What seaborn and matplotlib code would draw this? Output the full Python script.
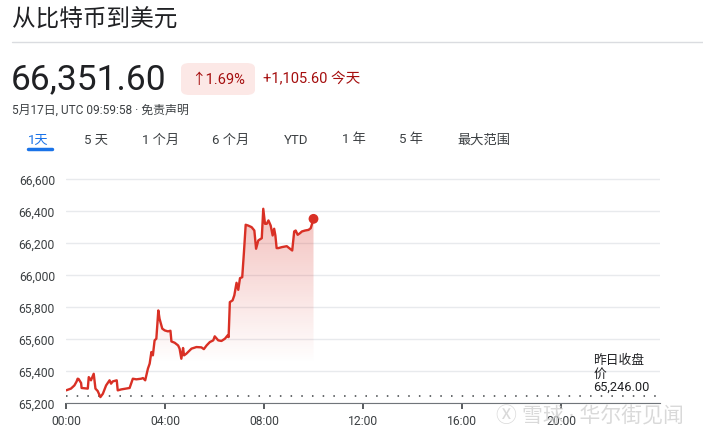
import numpy as np
import pandas as pd
import seaborn as sns
import matplotlib.pyplot as plt
from matplotlib.patches import FancyBboxPatch, Polygon

# BTC -> USD intraday
hours = [0.0, 0.2, 0.34, 0.43, 0.51, 0.47, 0.61, 0.63, 0.88, 0.92, 1.01, 1.12, 1.19,
         1.28, 1.39, 1.49, 1.62, 1.76, 1.82, 1.89, 2.05, 2.09, 2.23, 2.57, 2.70, 2.84,
         3.04, 3.11, 3.20, 3.31, 3.38, 3.45, 3.51, 3.58, 3.65, 3.73, 3.78, 3.89, 3.99,
         4.12, 4.22, 4.26, 4.39, 4.53, 4.59, 4.66, 4.73, 4.77, 4.86, 5.07, 5.27, 5.47,
         5.57, 5.68, 5.81, 5.95, 6.01, 6.15, 6.28, 6.42, 6.53, 6.57, 6.62, 6.73, 6.80,
         6.89, 6.96, 7.03, 7.12, 7.19, 7.26, 7.36, 7.50, 7.61, 7.68, 7.77, 7.91, 7.97,
         8.04, 8.11, 8.18, 8.27, 8.35, 8.41, 8.46, 8.51, 8.58, 8.72, 8.92, 9.05, 9.14,
         9.22, 9.28, 9.36, 9.46, 9.53, 9.66, 9.80, 9.89, 10.0]
price = [65279, 65290, 65310, 65335, 65350, 65352, 65325, 65294, 65290, 65362, 65342,
         65383, 65290, 65275, 65237, 65258, 65310, 65342, 65321, 65335, 65342, 65279,
         65285, 65294, 65352, 65348, 65352, 65356, 65342, 65415, 65446, 65519, 65498,
         65592, 65602, 65779, 65727, 65665, 65654, 65648, 65652, 65585, 65577, 65560,
         65540, 65477, 65544, 65498, 65508, 65540, 65550, 65548, 65537, 65560, 65581,
         65592, 65617, 65592, 65588, 65602, 65623, 65612, 65831, 65842, 65873, 65952,
         65908, 65981, 65987, 66144, 66315, 66310, 66300, 66279, 66165, 66217, 66231,
         66415, 66321, 66321, 66342, 66310, 66248, 66290, 66248, 66169, 66169, 66175,
         66181, 66165, 66154, 66273, 66279, 66252, 66263, 66273, 66279, 66283, 66294,
         66352]
prev_close = 65246.00
y_ticks = [65200, 65400, 65600, 65800, 66000, 66200, 66400, 66600]
x_ticks = [0, 4, 8, 12, 16, 20]
x_labels = ["00:00", "04:00", "08:00", "12:00", "16:00", "20:00"]
tabs = ["1天", "5 天", "1 个月", "6 个月", "YTD", "1 年", "5 年", "最大范围"]
tab_x = [28, 84, 142, 212, 284, 342, 399, 457]

df = pd.DataFrame({"hour": hours, "price": price})

RED = "#d93025"
CJK = ["Roboto", "Noto Sans CJK SC", "DejaVu Sans"]

sns.set_style("white")
plt.rcParams["font.family"] = CJK

W, H = 703, 439
fig = plt.figure(figsize=(W / 100, H / 100), dpi=100)
ax = fig.add_axes([66 / W, 1 - 404 / H, (660 - 66) / W, (404 - 177) / H])

sns.lineplot(data=df, x="hour", y="price", color=RED, lw=1.7, ax=ax, zorder=4)
ax.scatter([hours[-1]], [price[-1]], s=50, color=RED, zorder=5, edgecolor="none")

# gradient fill under the line, fading out toward the bottom
y0, y1 = 65200, 66620
vals = np.linspace(y0, y1, 256)
alpha = np.clip((vals - 65450) / (66400 - 65450), 0, 1) * 0.3
rgba = np.zeros((256, 1, 4))
rgba[..., 0] = 0.85
rgba[..., 1] = 0.19
rgba[..., 2] = 0.15
rgba[..., 3] = alpha.reshape(-1, 1)
im = ax.imshow(rgba, extent=[hours[0], hours[-1], y0, y1], origin="lower",
               aspect="auto", zorder=2)
poly = Polygon(list(zip(hours, price)) + [(hours[-1], y0), (hours[0], y0)],
               closed=True, transform=ax.transData, facecolor="none", edgecolor="none")
ax.add_patch(poly)
im.set_clip_path(poly)

ax.axhline(prev_close, color="#3c4043", lw=1.1, ls=(0, (1, 6)), zorder=3)

ax.set_xlim(0, 24)
ax.set_ylim(y0, y1)
ax.set_yticks(y_ticks)
ax.set_yticklabels([f"{v:,}" for v in y_ticks])
ax.set_xticks(x_ticks)
ax.set_xticklabels(x_labels)
ax.set_xlabel("")
ax.set_ylabel("")
ax.grid(axis="y", color="#e8eaed", lw=1)
for s in ["top", "right", "left"]:
    ax.spines[s].set_visible(False)
ax.spines["bottom"].set_color("#70757a")
ax.tick_params(axis="y", length=0, pad=8, labelsize=8.7, labelcolor="#3c4043")
ax.tick_params(axis="x", length=4, width=1.2, color="#3c4043", direction="out",
               pad=4, labelsize=8.7, labelcolor="#3c4043", bottom=True)

ax.text(21.3, 65262, "昨日收盘\n价\n65,246.00", fontsize=9.2, color="#202124",
        va="bottom", ha="left", linespacing=1.05, zorder=6)

# header
def px(x, y):
    return x / W, 1 - y / H

fig.text(*px(12, 20), "从比特币到美元", fontsize=17, color="#202124", va="center")
fig.add_artist(plt.Line2D([12 / W, 1], [1 - 43 / H] * 2, color="#dadce0", lw=1))
fig.text(*px(11, 80), "66,351.60", fontsize=25.5, color="#202124", va="center")
box = FancyBboxPatch(px(181, 96), 74 / W, 32 / H, boxstyle="round,pad=0,rounding_size=0.012",
                     transform=fig.transFigure, facecolor="#fce8e6", edgecolor="none")
fig.add_artist(box)
fig.text(*px(218, 80), "↑1.69%", fontsize=10.5, color="#a50e0e", va="center", ha="center")
fig.text(*px(263, 79), "+1,105.60 今天", fontsize=10.5, color="#a50e0e", va="center")
fig.text(*px(12, 110), "5月17日, UTC 09:59:58 · 免责声明", fontsize=8.6,
         color="#3c4043", va="center")
for label, x in zip(tabs, tab_x):
    c = "#1a73e8" if label == "1天" else "#3c4043"
    fig.text(*px(x, 140), label, fontsize=9.5, color=c, va="center")
fig.add_artist(plt.Line2D([28 / W, 52 / W], [1 - 150 / H] * 2, color="#1a73e8", lw=2.5))

# watermark
fig.text(*px(496, 416), "Ⓧ 雪球 · 华尔街见闻", fontsize=15, color="#d0d0d0",
         va="center", alpha=0.8, zorder=10)

fig.savefig("out.png", dpi=100)
